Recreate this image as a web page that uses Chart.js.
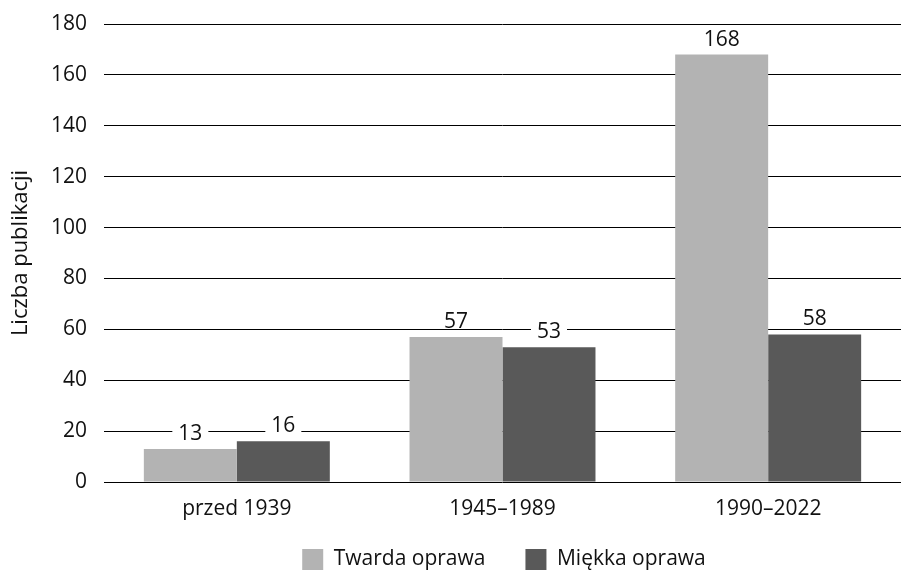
<!DOCTYPE html>
<html>
<head>
<meta charset="utf-8">
<script src="https://cdn.jsdelivr.net/npm/chart.js@4"></script>
<style>
    html, body { margin: 0; padding: 0; background: #fff; }
    #wrap { width: 901px; height: 572px; }
</style>
</head>
<body>
<div id="wrap"><canvas id="barChart" width="901" height="572"></canvas></div>
<script>
// Data
const periods = ['przed 1939', '1945–1989', '1990–2022'];
const hardCover = [13, 57, 168];
const softCover = [16, 53, 58];
const seriesNames = ['Twarda oprawa', 'Miękka oprawa'];

const FONT = 'Open Sans';
const TEXT = '#111';

// Value labels above bars, on a white box so they cut the grid lines
const valueLabels = {
    id: 'valueLabels',
    afterDatasetsDraw(chart) {
        const ctx = chart.ctx;
        ctx.save();
        ctx.font = '21px "' + FONT + '"';
        ctx.textAlign = 'center';
        ctx.textBaseline = 'alphabetic';
        chart.data.datasets.forEach((ds, i) => {
            chart.getDatasetMeta(i).data.forEach((bar, j) => {
                const txt = String(ds.data[j]);
                const w = ctx.measureText(txt).width;
                const base = bar.y - 9;
                ctx.fillStyle = '#fff';
                ctx.fillRect(bar.x - w / 2 - 6, base - 17, w + 12, 18);
                ctx.fillStyle = TEXT;
                ctx.fillText(txt, bar.x, base);
            });
        });
        ctx.restore();
    }
};

// Put the legend under the plot area (centred on it) just below the tick labels
const legendUnderPlot = {
    id: 'legendUnderPlot',
    afterLayout(chart) {
        const lg = chart.legend;
        if (lg) {
            lg.left = chart.chartArea.left - 4;
            lg.top = chart.chartArea.bottom + 27;
        }
    }
};

let ctx = document.getElementById('barChart').getContext('2d');
let barChart = new Chart(ctx, {
    type: 'bar',
    data: {
        labels: periods,
        datasets: [
            {
                label: seriesNames[0],
                data: hardCover,
                backgroundColor: '#b3b3b3',
            },
            {
                label: seriesNames[1],
                data: softCover,
                backgroundColor: '#595959',
            }
        ]
    },
    options: {
        responsive: false,
        animation: false,
        devicePixelRatio: 1,
        categoryPercentage: 0.7,
        barPercentage: 1.0,
        layout: {
            padding: { top: 0, right: -7, left: 0, bottom: -25 }
        },
        scales: {
            x: {
                grid: { display: false },
                border: { display: false },
                ticks: {
                    color: TEXT,
                    font: { size: 21, family: FONT },
                    padding: 6,
                },
                afterFit(scale) { scale.height = 44; }
            },
            y: {
                min: 0,
                max: 180,
                grid: {
                    color: '#000',
                    lineWidth: 1,
                    drawTicks: false,
                },
                border: { display: false },
                ticks: {
                    stepSize: 20,
                    color: TEXT,
                    font: { size: 21, family: FONT },
                    padding: 17,
                },
                title: {
                    display: true,
                    text: 'Liczba publikacji',
                    color: TEXT,
                    font: { size: 22, family: FONT },
                    padding: { top: 8, bottom: 0 },
                },
                afterFit(scale) {
                    scale.width = 104;
                    scale.paddingTop = 24;
                }
            }
        },
        plugins: {
            legend: {
                position: 'bottom',
                labels: {
                    color: TEXT,
                    font: { size: 21, family: FONT },
                    boxWidth: 21,
                    boxHeight: 21,
                    padding: 40,
                }
            },
            tooltip: { enabled: false }
        }
    },
    plugins: [valueLabels, legendUnderPlot]
});
</script>
</body>
</html>
